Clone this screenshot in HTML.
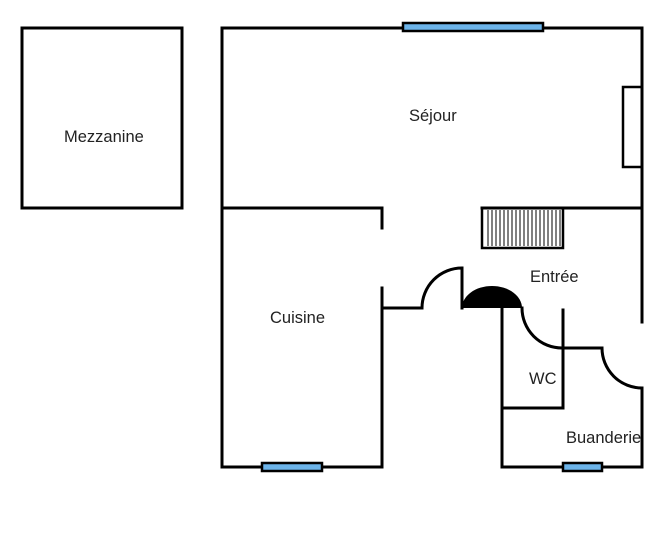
<!DOCTYPE html><html><head><style>body{margin:0;background:#fff}svg{display:block}text{font-family:"Liberation Sans",sans-serif;font-size:16.5px;fill:#222}</style></head><body>
<svg width="659" height="546" viewBox="0 0 659 546">
<g fill="none" stroke="#000" stroke-width="3" stroke-linecap="square">
<rect x="22" y="28" width="160" height="180"/>
<path d="M222 28H642V322M642 388V467H502V308M222 28V467H382V288M382 228V208H222M482 208H642"/>
<path d="M382 308H422A40 40 0 0 1 462 268V308"/>
<path d="M522 308A40 40 0 0 0 562 348H602A40 40 0 0 0 642 388"/>
<path d="M563 310V408H502"/>
<rect x="623" y="87" width="19" height="80" stroke-width="2.5"/>
<rect x="482" y="208" width="81" height="40" stroke-width="2.5"/>
</g>
<g stroke="#000" stroke-width="1">
<path d="M488 210V246M492 210V246M496 210V246M500 210V246M504 210V246M508 210V246M512 210V246M516 210V246M520 210V246M524 210V246M528 210V246M532 210V246M536 210V246M540 210V246M544 210V246M548 210V246M552 210V246M556 210V246M560 210V246"/>
</g>
<path d="M462 308A30 22 0 0 1 522 308Z" fill="#000"/>
<g fill="#6cb4ea" stroke="#000" stroke-width="2.5">
<rect x="403" y="23" width="140" height="8"/>
<rect x="262" y="463" width="60" height="8"/>
<rect x="563" y="463" width="39" height="8"/>
</g>
<text x="64" y="142">Mezzanine</text>
<text x="409" y="121">Séjour</text>
<text x="270" y="323">Cuisine</text>
<text x="530" y="282">Entrée</text>
<text x="529" y="384">WC</text>
<text x="566" y="443">Buanderie</text>
</svg></body></html>
